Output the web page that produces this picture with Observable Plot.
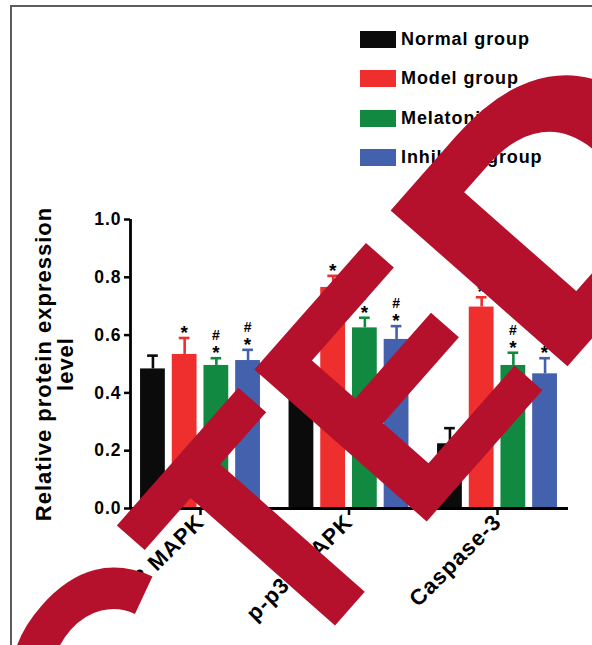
<!DOCTYPE html>
<html><head><meta charset="utf-8">
<script src="https://cdn.jsdelivr.net/npm/d3@7"></script>
<script src="https://cdn.jsdelivr.net/npm/@observablehq/plot@0.6"></script>
<style>
html,body{margin:0;padding:0;background:#fff;}
#wrap{position:relative;width:592px;height:645px;overflow:hidden;background:#fff;font-family:"Liberation Sans",Arial,sans-serif;}
#frame{position:absolute;left:10px;top:5px;width:700px;height:800px;border-top:2px solid #5c5c5c;border-left:2px solid #5c5c5c;}
#wrap svg{position:absolute;left:0;top:0;}
#legend{position:absolute;left:360px;top:0;width:232px;height:180px;}
.item{position:absolute;left:0;display:flex;align-items:center;white-space:nowrap;}
.sw{width:36px;height:17px;}
.lab{margin-left:5px;font-weight:bold;font-size:18px;letter-spacing:0.9px;color:#000;}
</style></head><body><div id="wrap"><div id="frame"></div></div>
<script>
const categories = ["p38 MAPK", "p-p38 MAPK", "Caspase-3"];
const groups = ["Normal group", "Model group", "Melatonin group", "Inhibitor group"];
const colors = ["#0b0b0b", "#ee2f2e", "#128940", "#4461ad"];
const normalMean = [0.483, 0.42, 0.224];
const normalErr = [0.046, 0.04, 0.054];
const modelMean = [0.533, 0.765, 0.697];
const modelErr = [0.057, 0.04, 0.034];
const melatoninMean = [0.495, 0.625, 0.495];
const melatoninErr = [0.025, 0.035, 0.044];
const inhibitorMean = [0.512, 0.585, 0.466];
const inhibitorErr = [0.037, 0.046, 0.054];
const starMarks = [["", "*", "*", "*"], ["", "*", "*", "*"], ["", "*", "*", "*"]];
const hashMarks = [["", "", "#", "#"], ["", "", "#", "#"], ["", "", "#", "#"]];
const yTicks = [0, 0.2, 0.4, 0.6, 0.8, 1.0];
const yTitle = "Relative protein expression\nlevel";
const watermarkHead = "RETRACTE";
const watermarkTail = "D";

const means = [normalMean, modelMean, melatoninMean, inhibitorMean];
const errs = [normalErr, modelErr, melatoninErr, inhibitorErr];
const step = 0.2135, half = 0.0835, cap = 0.036;
const xDomain = [-0.4714, 2.478];

const rows = [];
categories.forEach((c, i) => {
  groups.forEach((g, j) => {
    rows.push({cat: c, group: g, xc: i + (j - 1.5) * step, mean: means[j][i], err: errs[j][i],
      top: means[j][i] + errs[j][i], color: colors[j], star: starMarks[i][j], hash: hashMarks[i][j]});
  });
});

const plot = Plot.plot({
  width: 592, height: 645,
  marginLeft: 130, marginRight: 24, marginTop: 219, marginBottom: 137,
  style: {background: "transparent", fontFamily: "Liberation Sans, Arial, sans-serif", fontWeight: "bold", color: "#000", letterSpacing: "1px"},
  x: {domain: xDomain, axis: null},
  y: {domain: [0, 1], axis: null},
  marks: [
    Plot.rectY(rows, {x1: d => d.xc - half, x2: d => d.xc + half, y1: 0, y2: "mean", fill: d => d.color}),
    Plot.ruleX(rows, {x: "xc", y1: "mean", y2: "top", stroke: d => d.color, strokeWidth: 2.6}),
    Plot.ruleY(rows, {x1: d => d.xc - cap, x2: d => d.xc + cap, y: "top", stroke: d => d.color, strokeWidth: 2.6}),
    Plot.text(rows, {x: "xc", y: "top", text: "star", lineAnchor: "bottom", dy: 1, fontSize: 19, fill: "#000"}),
    Plot.text(rows, {x: "xc", y: "top", text: "hash", lineAnchor: "bottom", dy: -18, fontSize: 14, fill: "#000"}),
    Plot.axisY({ticks: yTicks, tickFormat: d3.format(".1f"), tickSize: 6, tickPadding: 3, fontSize: 17.5, strokeWidth: 2.5, label: null}),
    Plot.axisX({ticks: [0, 1, 2], tickFormat: i => categories[i], tickRotate: -45, tickSize: 7, tickPadding: 3, fontSize: 22, strokeWidth: 2.5, label: null}),
    Plot.ruleY([0], {strokeWidth: 2.8}),
    Plot.ruleX([xDomain[0]], {strokeWidth: 2.8}),
    Plot.text([yTitle], {frameAnchor: "left", text: d => d, rotate: -90, dx: -76, fontSize: 22, lineHeight: 1.0, textAnchor: "middle", lineAnchor: "middle", fill: "#000", ariaLabel: "ytitle"})
  ]
});
document.getElementById("wrap").appendChild(plot);

// legend
const legend = d3.select("#wrap").append("div").attr("id", "legend");
const rowCenters = [39.5, 78, 118, 157];
groups.forEach((g, j) => {
  const it = legend.append("div").attr("class", "item").style("top", (rowCenters[j] - 11) + "px").style("height", "22px");
  it.append("div").attr("class", "sw").style("background", colors[j]);
  it.append("span").attr("class", "lab").text(g);
});

// retraction stamp overlay
const stampColor = "#b5102c";
const wm = d3.select("#wrap").append("svg").attr("width", 592).attr("height", 645).style("pointer-events", "none");
const g0 = wm.append("g").attr("transform", "translate(412.9,537.1) rotate(-48.6)");
const g1 = g0.append("g").attr("transform", "scale(0.934,1)");
const wt = g1.append("text").text(watermarkHead)
  .attr("font-family", "Liberation Sans, Arial, sans-serif").attr("font-weight", "bold")
  .attr("font-size", 334).attr("fill", stampColor);
const pre = wt.node().getSubStringLength(0, 7);
const advE = wt.node().getSubStringLength(7, 1);
wt.attr("x", -pre);
g0.append("text").text(watermarkTail)
  .attr("transform", `translate(${0.934 * advE},0) scale(1.15,1)`)
  .attr("font-family", "Liberation Sans, Arial, sans-serif").attr("font-weight", "bold")
  .attr("font-size", 334).attr("fill", stampColor)
  .attr("stroke", stampColor).attr("stroke-width", 6).attr("stroke-linejoin", "miter");
</script></body></html>
